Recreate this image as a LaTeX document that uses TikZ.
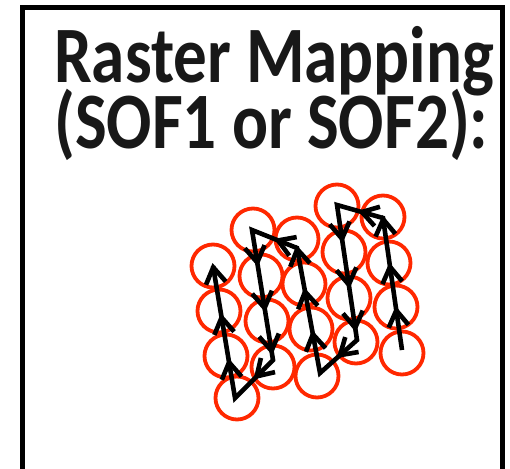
\documentclass[tikz,border=0pt]{standalone}
\usepackage{fontspec}
\usepackage{graphicx}
\setmainfont{Carlito}
\usetikzlibrary{calc,decorations.markings}
\definecolor{ringred}{RGB}{255,40,0}
\definecolor{titleink}{RGB}{24,24,24}
\newcommand{\headfont}{\fontsize{80}{96}\selectfont\bfseries}
\newlength{\headwidth}
\tikzset{
  ring/.style={draw=ringred,line width=3.8pt},
  scanline/.style={draw=black,line width=4.6pt,line join=miter},
  chevron/.style={draw=black,line width=4.6pt,line join=miter,line cap=butt},
  % open arrow head drawn in the local frame of the path
  chev/.code={\draw[chevron] (-16pt,10pt) -- (0pt,0pt) -- (-16pt,-10pt);},
  onemark/.style={decoration={markings,
      mark=at position #1 with {\tikzset{chev}}},decorate},
  threemarks/.style n args={3}{decoration={markings,
      mark=at position #1 with {\tikzset{chev}},
      mark=at position #2 with {\tikzset{chev}},
      mark=at position #3 with {\tikzset{chev}}},decorate},
  title/.style={anchor=base west,inner sep=0pt,text=titleink,font=\headfont}
}
\begin{document}
% heading is set in a narrowed bold face
\settowidth{\headwidth}{\headfont Raster Mapping}%
\pgfmathsetmacro{\headsx}{440/\headwidth}%
\begin{tikzpicture}[x=1pt,y=-1pt]
\useasboundingbox (0,0) rectangle (510,468);
\clip (0,0) rectangle (510,468);

% frame (runs off the bottom edge)
\draw[line width=5pt] (22.5,7.5) rectangle (502.5,520);

% heading
\node[title] (line1) at (54,83) {\scalebox{\headsx}[1]{Raster Mapping}};
\node[title] (line2) at (54,148) {\scalebox{\headsx}[1]{(SOF1 or SOF2):}};

% raster spots, column by column
\foreach \n/\x/\y in {
  a1/213/266, a2/219/311, a3/226/356, a4/237/398,
  b1/253/230, b2/261/276, b3/267/321, b4/273/367,
  c1/297/239, c2/304/284, c3/311/329, c4/317/376,
  d1/337/206, d2/344/252, d3/349/298, d4/356/342,
  e1/383/217, e2/389/263, e3/396/307, e4/402/353}
  \draw[ring] (\x,\y) circle[radius=21.5];

% turning points of the scan
\coordinate (A) at (402,350);
\coordinate (B) at (383,218);
\coordinate (C) at (337,205);
\coordinate (D) at (357,340);
\coordinate (E) at (320,373);
\coordinate (F) at (297,248);
\coordinate (G) at (252,230);
\coordinate (H) at (273,360);
\coordinate (I) at (235,398);
\coordinate (J) at (213,266);

% serpentine scan path
\draw[scanline] (A) -- (B) -- (C) -- (D) -- (E) -- (F) -- (G) -- (H) -- (I) -- (J);

% direction chevrons
\path[threemarks={0.3}{0.63}{0.99}] (A) -- (B);
\path[onemark=0.46] (B) -- (C);
\path[threemarks={0.25}{0.59}{0.91}] (C) -- (D);
\path[onemark=0.46] (D) -- (E);
\path[threemarks={0.31}{0.65}{0.99}] (E) -- (F);
\path[onemark=0.42] (F) -- (G);
\path[threemarks={0.25}{0.6}{0.93}] (G) -- (H);
\path[onemark=0.43] (H) -- (I);
\path[threemarks={0.27}{0.61}{0.99}] (I) -- (J);
\end{tikzpicture}
\end{document}
